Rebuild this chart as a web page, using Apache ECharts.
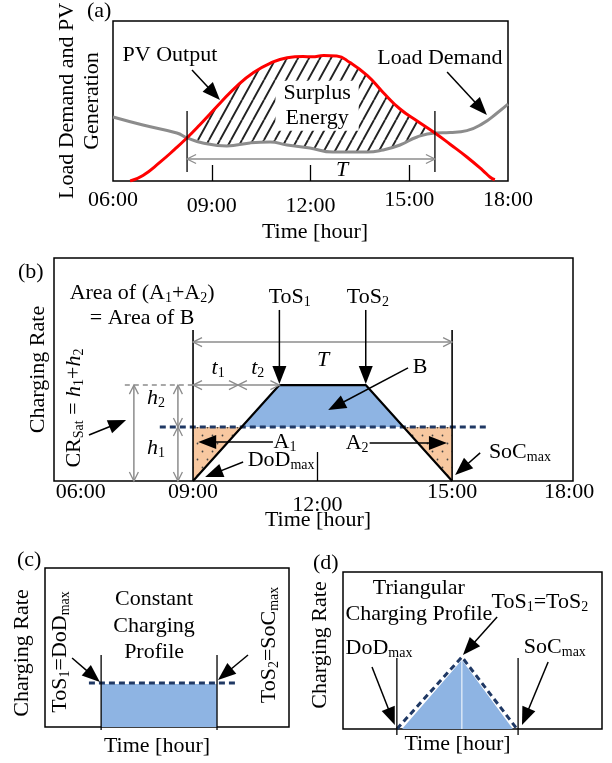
<!DOCTYPE html>
<html>
<head>
<meta charset="utf-8">
<script src="https://cdn.jsdelivr.net/npm/echarts@6/dist/echarts.min.js"></script>
<style>
html, body { margin: 0; padding: 0; background: #fff; }
#chart { width: 612px; height: 763px; }
</style>
</head>
<body>
<div id="chart"></div>
<script>
const FONT = "'Liberation Serif', serif";
const GRAY = '#8c8c8c';
const NAVY = '#1f3864';
const BLUE = '#8eb4e3';
const ORANGE = '#f8c8a0';

// (a) load demand and PV generation (hour of day, relative level 0-100)
const pvHours = [6.52, 6.91, 7.43, 7.88, 8.25, 8.64, 9.25, 9.77, 10.25, 10.77, 11.29, 11.77, 12.05, 12.4, 12.8, 13.2, 13.72, 14.2, 14.72, 15.24, 15.78, 16.24, 16.75, 17.24, 17.45, 17.6];
const pvOutput = [0, 3.5, 11.8, 19.9, 27, 35.2, 48.6, 59.5, 67.5, 73.5, 77, 77.8, 77.6, 78.4, 78.1, 74, 66, 55.5, 45, 37.5, 30, 23, 15, 6.5, 2.5, 0.8];
const loadHours = [6, 6.91, 7.94, 8.25, 8.73, 9.46, 10.16, 10.77, 11.29, 11.98, 12.68, 13.72, 14.2, 14.72, 15.24, 15.78, 16.24, 16.75, 17.24, 17.67, 18];
const loadDemand = [40, 35, 30, 27, 23.8, 21.9, 23.8, 24.4, 22.5, 20.6, 18.1, 18.1, 19.4, 22.5, 27.5, 30, 30.3, 31.5, 36, 42.5, 48];
const surplusStart = 8.25;
const surplusEnd = 15.78;

// (b) trapezoid charging profile
const trapHours = [9, 11, 13, 15];
const trapRate = [0, 43, 43, 0];
const crSat = 24.2;
const satLineHours = [8.23, 15.81];
const bHours = [10.13, 11, 13, 13.87];
const bRate = [24.2, 43, 43, 24.2];
const a1Hours = [9, 9, 10.13];
const a1Rate = [0, 24.2, 24.2];
const a2Hours = [13.87, 15, 15];
const a2Rate = [24.2, 24.2, 0];

// (c) constant profile
const constHours = [2.3, 7.05];
const constRate = [27, 27];
const constLineHours = [1.8, 7.79];
const constLineRate = 27.7;

// (d) triangular profile
const triHours = [2.28, 4.59, 6.56];
const triRate = [0, 43.9, 0];
const triLineHours = [2.08, 4.59, 6.72];
const triLineRate = [0, 45.9, 0];

// tick labels
const tickLabels = ['06:00', '09:00', '12:00', '15:00', '18:00'];
const tickHoursA = [6, 9, 12, 15, 18];
const tickHoursB = [6.4, 9, 11.88, 15, 17.71];
const dropA = [0, 6, 6, 0, 0];
const dropB = [0, 0, 13, 0, 0];

const zip = (xs, ys) => xs.map((x, i) => [x, Array.isArray(ys) ? ys[i] : ys]);

function hatchPattern() {
  const c = document.createElement('canvas');
  c.width = 11; c.height = 20;
  const g = c.getContext('2d');
  g.strokeStyle = '#222';
  g.lineWidth = 1.9;
  g.beginPath();
  g.moveTo(0, 20); g.lineTo(11, 0);
  g.moveTo(-11, 20); g.lineTo(0, 0);
  g.moveTo(11, 20); g.lineTo(22, 0);
  g.stroke();
  return c;
}
function dotPattern() {
  const c = document.createElement('canvas');
  c.width = 10; c.height = 16;
  const g = c.getContext('2d');
  g.fillStyle = ORANGE;
  g.fillRect(0, 0, 10, 16);
  g.fillStyle = '#444';
  g.beginPath(); g.arc(2.5, 3.5, 0.9, 0, Math.PI * 2); g.fill();
  g.beginPath(); g.arc(7.5, 11.5, 0.9, 0, Math.PI * 2); g.fill();
  return c;
}

const RICH = {
  it: { fontFamily: FONT, fontSize: 22, fontStyle: 'italic', lineHeight: 24, fill: '#000' },
  sub: { fontFamily: FONT, fontSize: 14, lineHeight: 14, padding: [11, 0, 0, 0], fill: '#000' }
};

function arrowHead(tip, ux, uy, len, hw) {
  const bx = tip[0] - ux * len, by = tip[1] - uy * len;
  return [[bx - uy * hw, by + ux * hw], tip, [bx + uy * hw, by - ux * hw]];
}

function drawItem(it, api) {
  if (it.kind === 'text') {
    const p = api.coord(it.at);
    const style = {
      text: it.text, fill: '#000', fontFamily: FONT, fontSize: 22,
      align: 'center', verticalAlign: 'middle', lineHeight: it.lh || 24, rich: RICH
    };
    if (it.bg) { style.backgroundColor = it.bg; style.padding = [0, 8]; }
    return { type: 'text', x: p[0], y: p[1], rotation: it.rotate ? Math.PI / 2 : 0, style: style };
  }
  if (it.kind === 'poly') {
    return { type: 'polygon', shape: { points: it.pts.map(q => api.coord(q)) }, style: { fill: it.fill } };
  }
  const p0 = api.coord(it.from), p1 = api.coord(it.to);
  const color = it.color || '#000';
  const dx = p1[0] - p0[0], dy = p1[1] - p0[1];
  const L = Math.hypot(dx, dy), ux = dx / L, uy = dy / L;
  const children = [];
  let end = p1;
  if (it.head === 'fill') {
    end = [p1[0] - ux * 12, p1[1] - uy * 12];
    children.push({ type: 'polygon', shape: { points: arrowHead(p1, ux, uy, 18, 7) }, style: { fill: color } });
  } else if (it.head === 'open') {
    children.push({ type: 'polyline', shape: { points: arrowHead(p1, ux, uy, 9, 4.5) }, style: { stroke: color, fill: 'none', lineWidth: 1.3 } });
    children.push({ type: 'polyline', shape: { points: arrowHead(p0, -ux, -uy, 9, 4.5) }, style: { stroke: color, fill: 'none', lineWidth: 1.3 } });
  }
  children.unshift({
    type: 'line', shape: { x1: p0[0], y1: p0[1], x2: end[0], y2: end[1] },
    style: { stroke: color, lineWidth: it.width || 1.5, lineDash: it.dash || null }
  });
  return { type: 'group', children: children };
}

function itemSeries(gi, items, z) {
  return {
    type: 'custom', xAxisIndex: gi, yAxisIndex: gi, z: z, silent: true, clip: false,
    data: items.map((_, i) => [i]),
    renderItem: (params, api) => drawItem(items[params.dataIndex], api)
  };
}

// fills
const hatchPts = zip(pvHours, pvOutput).filter(p => p[0] >= surplusStart && p[0] <= surplusEnd)
  .concat(zip(loadHours, loadDemand).filter(p => p[0] >= surplusStart && p[0] <= surplusEnd).reverse());
const fillsA = [{ kind: 'poly', pts: hatchPts, fill: { image: hatchPattern(), repeat: 'repeat' } }];
const fillsB = [
  { kind: 'poly', pts: zip(bHours, bRate), fill: BLUE },
  { kind: 'poly', pts: zip(a1Hours, a1Rate), fill: { image: dotPattern(), repeat: 'repeat' } },
  { kind: 'poly', pts: zip(a2Hours, a2Rate), fill: { image: dotPattern(), repeat: 'repeat' } }
];

// annotations
const notesA = [
  { kind: 'seg', from: [surplusStart, 43.75], to: [surplusStart, 5.6], width: 1.3 },
  { kind: 'seg', from: [surplusEnd, 43.75], to: [surplusEnd, 5.6], width: 1.3 },
  { kind: 'seg', from: [surplusStart, 13.75], to: [surplusEnd, 13.75], head: 'open', color: GRAY },
  { kind: 'text', at: [12.96, 6.9], text: '{it|T}' },
  { kind: 'text', at: [12.2, 47], text: 'Surplus\nEnergy', lh: 25, bg: '#fff' },
  { kind: 'text', at: [7.73, 78.8], text: 'PV Output' },
  { kind: 'seg', from: [8.4, 69.4], to: [9.25, 50.6], head: 'fill' },
  { kind: 'text', at: [15.93, 76.9], text: 'Load Demand' },
  { kind: 'seg', from: [16.15, 68.1], to: [17.36, 41.25], head: 'fill' }
];
const notesB = [
  { kind: 'seg', from: [9, 67.7], to: [9, 0], width: 1.6 },
  { kind: 'seg', from: [15, 67.7], to: [15, 0], width: 1.6 },
  { kind: 'seg', from: [9, 62.3], to: [15, 62.3], head: 'open', color: GRAY },
  { kind: 'seg', from: [9, 43], to: [10.04, 43], head: 'open', color: GRAY },
  { kind: 'seg', from: [10.04, 43], to: [11, 43], head: 'open', color: GRAY },
  { kind: 'seg', from: [7.42, 43], to: [9, 43], color: GRAY, dash: [5, 4] },
  { kind: 'seg', from: [8.65, 43], to: [8.65, crSat], head: 'open', color: GRAY },
  { kind: 'seg', from: [8.65, crSat], to: [8.65, 0], head: 'open', color: GRAY },
  { kind: 'seg', from: [7.63, 43], to: [7.63, 0], head: 'open', color: GRAY },
  { kind: 'text', at: [7.82, 78.7], text: 'Area of (A{sub|1}+A{sub|2})\n= Area of B', lh: 25 },
  { kind: 'text', at: [11.24, 82.5], text: 'ToS{sub|1}' },
  { kind: 'text', at: [13.05, 82.5], text: 'ToS{sub|2}' },
  { kind: 'seg', from: [11, 76.7], to: [11, 43.5], head: 'fill' },
  { kind: 'seg', from: [13, 76.7], to: [13, 43.5], head: 'fill' },
  { kind: 'text', at: [12.01, 54.3], text: '{it|T}' },
  { kind: 'text', at: [9.58, 50.7], text: '{it|t}{sub|1}' },
  { kind: 'text', at: [10.5, 50.7], text: '{it|t}{sub|2}' },
  { kind: 'text', at: [14.26, 51.1], text: 'B' },
  { kind: 'seg', from: [13.98, 50.7], to: [12.13, 31.8], head: 'fill' },
  { kind: 'text', at: [8.14, 37.2], text: '{it|h}{sub|2}' },
  { kind: 'text', at: [8.14, 14.8], text: '{it|h}{sub|1}' },
  { kind: 'text', at: [6.24, 32.7], text: 'CR{sub|Sat} = {it|h}{sub|1}+{it|h}{sub|2}', rotate: true },
  { kind: 'seg', from: [6.59, 20.6], to: [7.45, 27.4], head: 'fill' },
  { kind: 'text', at: [11.13, 17.5], text: 'A{sub|1}' },
  { kind: 'seg', from: [10.85, 17.5], to: [9.12, 17.5], head: 'fill' },
  { kind: 'text', at: [12.8, 17], text: 'A{sub|2}' },
  { kind: 'seg', from: [13.09, 17], to: [14.88, 17], head: 'fill' },
  { kind: 'text', at: [11.04, 9.4], text: 'DoD{sub|max}' },
  { kind: 'seg', from: [10.16, 8.5], to: [9.28, 1.8], head: 'fill' },
  { kind: 'text', at: [16.57, 13], text: 'SoC{sub|max}' },
  { kind: 'seg', from: [15.65, 12.6], to: [15.07, 2.7], head: 'fill' }
];
const notesC = [
  { kind: 'seg', from: [2.3, 45.3], to: [2.3, -1.9], width: 1.3 },
  { kind: 'seg', from: [7.05, 45.3], to: [7.05, -1.9], width: 1.3 },
  { kind: 'text', at: [0.61, 47.2], text: 'ToS{sub|1}=DoD{sub|max}', rotate: true },
  { kind: 'seg', from: [1.11, 43.4], to: [2.25, 28.3], head: 'fill' },
  { kind: 'text', at: [9.18, 51.6], text: 'ToS{sub|2}=SoC{sub|max}', rotate: true },
  { kind: 'seg', from: [8.32, 45.3], to: [7.09, 29.6], head: 'fill' },
  { kind: 'text', at: [4.47, 63.5], text: 'Constant\nCharging\nProfile', lh: 26.5 }
];
const notesD = [
  { kind: 'seg', from: [2.08, 45.2], to: [2.08, -3.8], width: 1.3 },
  { kind: 'seg', from: [6.76, 45.2], to: [6.76, -3.8], width: 1.3 },
  { kind: 'seg', from: [4.59, 0], to: [4.59, 43.9], color: '#fff', width: 1 },
  { kind: 'text', at: [2.93, 81.5], text: 'Triangular\nCharging Profile', lh: 26 },
  { kind: 'text', at: [7.6, 80.9], text: 'ToS{sub|1}=ToS{sub|2}' },
  { kind: 'seg', from: [5.95, 71.3], to: [4.63, 47.1], head: 'fill' },
  { kind: 'text', at: [1.39, 51.6], text: 'DoD{sub|max}' },
  { kind: 'seg', from: [1.12, 39.5], to: [2.0, 2.5], head: 'fill' },
  { kind: 'text', at: [8.18, 52.2], text: 'SoC{sub|max}' },
  { kind: 'seg', from: [7.92, 42.7], to: [6.91, 2.5], head: 'fill' }
];

const nameStyle = { fontFamily: FONT, fontSize: 22, color: '#000', lineHeight: 24 };
const labelRich = {
  n: { fontFamily: FONT, fontSize: 22, color: '#000' },
  lo6: { fontFamily: FONT, fontSize: 22, color: '#000', padding: [6, 0, 0, 0] },
  lo13: { fontFamily: FONT, fontSize: 22, color: '#000', padding: [13, 0, 0, 0] }
};
function tickLabel(vals, drops) {
  return v => {
    const i = vals.indexOf(v);
    if (i < 0) return '';
    return drops[i] ? '{lo' + drops[i] + '|' + tickLabels[i] + '}' : '{n|' + tickLabels[i] + '}';
  };
}

function xAxis(gi, min, max, extra) {
  return Object.assign({
    gridIndex: gi, type: 'value', min: min, max: max,
    axisLine: { show: false }, splitLine: { show: false },
    axisTick: { show: false }, axisLabel: { show: false },
    name: 'Time [hour]', nameLocation: 'middle', nameMoveOverlap: false
  }, extra);
}
function yAxis(gi, name, gap, pad) {
  return {
    gridIndex: gi, type: 'value', min: 0, max: 100,
    axisLine: { show: false }, splitLine: { show: false },
    axisTick: { show: false }, axisLabel: { show: false },
    name: name, nameLocation: 'middle', nameGap: gap, nameMoveOverlap: false,
    nameTextStyle: Object.assign({}, nameStyle, { lineHeight: 25, padding: pad || 0 })
  };
}

const gridBase = { show: true, borderColor: '#000', borderWidth: 1.5, backgroundColor: 'transparent', outerBoundsMode: 'none' };

const option = {
  animation: false,
  backgroundColor: '#fff',
  grid: [
    Object.assign({ left: 113, top: 21, width: 395, height: 160 }, gridBase),
    Object.assign({ left: 54, top: 258, width: 519, height: 223 }, gridBase),
    Object.assign({ left: 45, top: 568, width: 244, height: 159 }, gridBase),
    Object.assign({ left: 343, top: 572, width: 259, height: 157 }, gridBase)
  ],
  xAxis: [
    xAxis(0, 6, 18, {
      axisTick: { show: true, inside: true, length: 16, customValues: [9, 12, 15], lineStyle: { color: '#000', width: 1.3 } },
      axisLabel: { show: true, customValues: tickHoursA, margin: 8, formatter: tickLabel(tickHoursA, dropA), rich: labelRich },
      nameGap: 39, nameTextStyle: Object.assign({}, nameStyle, { padding: [0, 0, 0, 9] })
    }),
    xAxis(1, 5.78, 17.8, {
      axisTick: { show: true, inside: true, length: 29, customValues: [11.88], lineStyle: { color: '#000', width: 1.3 } },
      axisLabel: { show: true, customValues: tickHoursB, margin: 0, formatter: tickLabel(tickHoursB, dropB), rich: labelRich },
      nameGap: 27, nameTextStyle: Object.assign({}, nameStyle, { padding: [0, 0, 0, 9] })
    }),
    xAxis(2, 0, 10, { nameGap: 7, nameTextStyle: Object.assign({}, nameStyle, { padding: [0, 20, 0, 0] }) }),
    xAxis(3, 0, 10, { nameGap: 3, nameTextStyle: Object.assign({}, nameStyle, { padding: [0, 30, 0, 0] }) })
  ],
  yAxis: [
    yAxis(0, 'Load Demand and PV\nGeneration', 8),
    yAxis(1, 'Charging Rate', 3),
    yAxis(2, 'Charging Rate', 10, [0, 11, 0, 0]),
    yAxis(3, 'Charging Rate', 10, [0, 0, 0, 11])
  ],
  graphic: [
    { type: 'text', left: 87, top: 0, style: { text: '(a)', fontFamily: FONT, fontSize: 22, fill: '#000' } },
    { type: 'text', left: 18, top: 261, style: { text: '(b)', fontFamily: FONT, fontSize: 22, fill: '#000' } },
    { type: 'text', left: 17, top: 549, style: { text: '(c)', fontFamily: FONT, fontSize: 22, fill: '#000' } },
    { type: 'text', left: 313, top: 552, style: { text: '(d)', fontFamily: FONT, fontSize: 22, fill: '#000' } }
  ],
  series: [
    // (a)
    itemSeries(0, fillsA, 1),
    {
      name: 'Load Demand', type: 'line', xAxisIndex: 0, yAxisIndex: 0, z: 3,
      data: zip(loadHours, loadDemand), smooth: 0.5, symbol: 'none',
      lineStyle: { color: GRAY, width: 3 }
    },
    {
      name: 'PV Output', type: 'line', xAxisIndex: 0, yAxisIndex: 0, z: 4,
      data: zip(pvHours, pvOutput), smooth: 0.5, symbol: 'none',
      lineStyle: { color: '#ff0000', width: 3 }
    },
    itemSeries(0, notesA, 6),
    // (b)
    itemSeries(1, fillsB, 1),
    {
      type: 'line', xAxisIndex: 1, yAxisIndex: 1, z: 3, symbol: 'none',
      data: zip(satLineHours, crSat),
      lineStyle: { color: NAVY, width: 3, type: [6, 4] }
    },
    {
      type: 'line', xAxisIndex: 1, yAxisIndex: 1, z: 4, symbol: 'none',
      data: zip(trapHours, trapRate),
      lineStyle: { color: '#000', width: 2.2 }
    },
    itemSeries(1, notesB, 6),
    // (c)
    {
      type: 'line', xAxisIndex: 2, yAxisIndex: 2, z: 2, symbol: 'none',
      data: zip(constHours, constRate),
      lineStyle: { width: 0, opacity: 0 }, areaStyle: { color: BLUE, opacity: 1 }
    },
    {
      type: 'line', xAxisIndex: 2, yAxisIndex: 2, z: 3, symbol: 'none',
      data: zip(constLineHours, constLineRate),
      lineStyle: { color: NAVY, width: 3, type: [6, 4] }
    },
    itemSeries(2, notesC, 6),
    // (d)
    {
      type: 'line', xAxisIndex: 3, yAxisIndex: 3, z: 2, symbol: 'none',
      data: zip(triHours, triRate),
      lineStyle: { width: 0, opacity: 0 }, areaStyle: { color: BLUE, opacity: 1 }
    },
    {
      type: 'line', xAxisIndex: 3, yAxisIndex: 3, z: 3, symbol: 'none',
      data: zip(triLineHours, triLineRate),
      lineStyle: { color: NAVY, width: 3, type: [6, 4] }
    },
    itemSeries(3, notesD, 6)
  ]
};

const myChart = echarts.init(document.getElementById('chart'));
myChart.setOption(option);
</script>
</body>
</html>
